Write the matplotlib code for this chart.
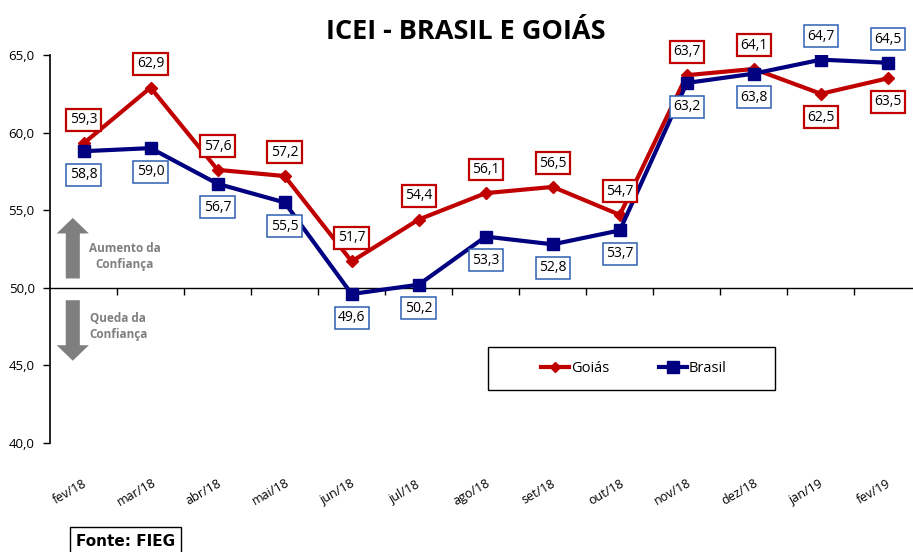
import matplotlib
matplotlib.use("Agg")
import matplotlib.pyplot as plt
from matplotlib.patches import FancyArrow, Rectangle
import matplotlib.transforms as mtransforms

months = ["fev/18", "mar/18", "abr/18", "mai/18", "jun/18", "jul/18", "ago/18",
          "set/18", "out/18", "nov/18", "dez/18", "jan/19", "fev/19"]
goias = [59.3, 62.9, 57.6, 57.2, 51.7, 54.4, 56.1, 56.5, 54.7, 63.7, 64.1, 62.5, 63.5]
brasil = [58.8, 59.0, 56.7, 55.5, 49.6, 50.2, 53.3, 52.8, 53.7, 63.2, 63.8, 64.7, 64.5]
# label placement: +1 above, -1 below
goias_pos = [1, 1, 1, 1, 1, 1, 1, 1, 1, 1, 1, -1, -1]
brasil_pos = [-1, -1, -1, -1, -1, -1, -1, -1, -1, -1, -1, 1, 1]
yticks = [40, 45, 50, 55, 60, 65]

RED = "#C00000"
BLUE = "#000080"
GRAY = "#7F7F7F"
plt.rcParams['font.family'] = ['Open Sans', 'DejaVu Sans']

W, H = 913, 552
fig = plt.figure(figsize=(W / 100, H / 100), dpi=100)
ax = fig.add_axes([50 / W, 109 / H, (921.5 - 50) / W, 388 / H])
x = list(range(len(months)))

ax.plot(x, goias, color=RED, lw=3, marker="D", ms=6, zorder=3, label="Goiás")
ax.plot(x, brasil, color=BLUE, lw=3, marker="s", ms=9, zorder=3, label="Brasil")

ax.set_xlim(-0.5, len(months) - 0.5)
ax.set_ylim(40, 65)
ax.set_yticks(yticks)
ax.set_yticklabels([f"{v:.1f}".replace(".", ",") for v in yticks], fontsize=9.5)
ax.spines['top'].set_visible(False)
ax.spines['right'].set_visible(False)
ax.spines['bottom'].set_position(('data', 50))
ax.spines['left'].set_linewidth(1.2)
ax.spines['bottom'].set_linewidth(1.0)
ax.set_xticks([i + 0.5 for i in range(len(months) - 1)])
ax.set_xticklabels([])
ax.tick_params(axis='x', direction='out', length=5, width=1)
ax.tick_params(axis='y', direction='out', length=5, width=1, pad=6)

trans = mtransforms.blended_transform_factory(ax.transData, ax.transAxes)
for i, m in enumerate(months):
    ax.text(i - 0.21, -0.126, m, transform=trans, rotation=30, ha='center',
            va='center', fontsize=9)

def label(vals, pos, color, lw):
    for i, (v, p) in enumerate(zip(vals, pos)):
        ax.annotate(f"{v:.1f}".replace(".", ","), (i, v), xytext=(0, 17 * p),
                    textcoords='offset points', ha='center', va='center',
                    fontsize=10,
                    bbox=dict(boxstyle='square,pad=0.25', fc='white', ec=color, lw=lw),
                    zorder=5)

label(goias, goias_pos, RED, 1.6)
label(brasil, brasil_pos, "#2F5FB3", 1.1)

# arrows
ax.add_patch(FancyArrow(-0.16, 50.6, 0, 3.9, width=0.21, head_width=0.48,
                        head_length=1.0, length_includes_head=True,
                        color=GRAY, lw=0, zorder=2))
ax.add_patch(FancyArrow(-0.16, 49.2, 0, -3.9, width=0.21, head_width=0.48,
                        head_length=1.0, length_includes_head=True,
                        color=GRAY, lw=0, zorder=2))
ax.text(0.61, 52.0, "Aumento da\nConfiança", ha='center', va='center', fontsize=8.5,
        color=GRAY, fontweight='bold', linespacing=1.3)
ax.text(0.52, 47.5, "Queda da\nConfiança", ha='center', va='center', fontsize=8.5,
        color=GRAY, fontweight='bold', linespacing=1.3)

# legend box
fig.patches.append(Rectangle((488 / W, 1 - 390 / H), 287 / W, 43 / H,
                             transform=fig.transFigure, fc='white', ec='black',
                             lw=1, zorder=0))
leg = fig.legend(loc='center', bbox_to_anchor=(634 / W, 1 - 368.5 / H), ncol=2,
                 frameon=False, fontsize=10.5, handlelength=1.9,
                 columnspacing=3.4, handletextpad=0.15)
for h in leg.legend_handles:
    h.set_markersize(h.get_markersize() * 0.9)

fig.text(466 / W, 1 - 32 / H, "ICEI - BRASIL E GOIÁS", ha='center', va='center',
         fontsize=19.5, fontweight='bold')

fig.text(76 / W, 1 - 541 / H, "Fonte: FIEG", ha='left', va='center', fontsize=11,
         fontweight='bold', family=['DejaVu Sans'],
         bbox=dict(boxstyle='square,pad=0.4', fc='white', ec='black', lw=1))

fig.savefig("out.png", dpi=100)
